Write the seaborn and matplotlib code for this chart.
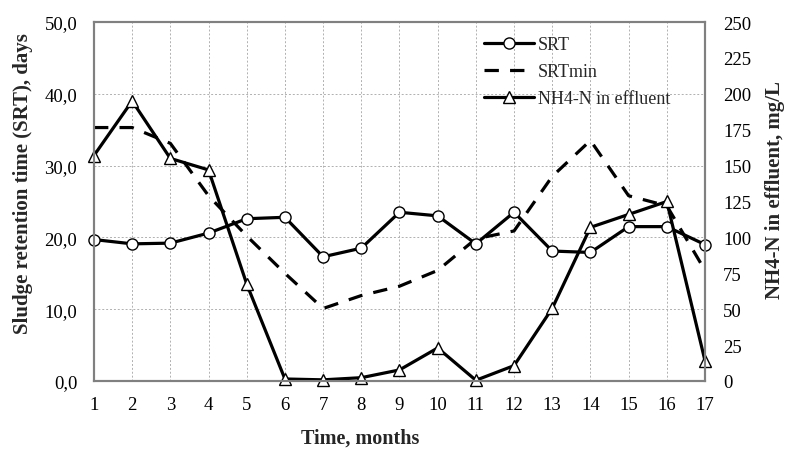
import matplotlib
matplotlib.use("Agg")
import matplotlib.pyplot as plt
import seaborn as sns
import pandas as pd
from matplotlib.ticker import FuncFormatter, MultipleLocator

months = list(range(1, 18))
srt = [19.7, 19.1, 19.2, 20.6, 22.6, 22.8, 17.3, 18.5, 23.5, 23.0, 19.1, 23.5, 18.1, 17.9, 21.5, 21.5, 19.0]
srt_min = [35.3, 35.3, 33.1, 25.8, 20.2, 15.0, 10.1, 11.9, 13.2, 15.4, 19.8, 20.9, 28.5, 33.5, 25.8, 24.4, 15.4]
nh4 = [157, 195, 155, 147, 67.5, 1.4, 0.8, 2.3, 7.7, 23, 0.5, 10.7, 50.6, 107, 116, 125, 14]

df = pd.DataFrame({"month": months, "SRT": srt, "SRTmin": srt_min, "NH4": nh4})

sns.set_style("white")
plt.rcParams['font.family'] = ['Liberation Serif', 'DejaVu Serif']

fig = plt.figure(figsize=(7.85, 4.52), dpi=100)
ax = fig.add_axes([0.1197, 0.1549, 0.7784, 0.7942])
ax2 = ax.twinx()

sns.lineplot(data=df, x="month", y="SRT", ax=ax, color="black", linewidth=2.3,
             marker="o", markersize=8, markerfacecolor="white",
             markeredgecolor="black", markeredgewidth=1.0, label="SRT",
             legend=False, clip_on=False, zorder=3)
sns.lineplot(data=df, x="month", y="SRTmin", ax=ax, color="black", linewidth=2.3,
             linestyle=(0, (4.5, 3.5)), label="SRTmin", legend=False, zorder=2)
sns.lineplot(data=df, x="month", y="NH4", ax=ax2, color="black", linewidth=2.3,
             marker="^", markersize=9, markerfacecolor="white",
             markeredgecolor="black", markeredgewidth=1.0,
             label="NH4-N in effluent", legend=False, clip_on=False)

ax.set_xlim(1, 17)
ax.set_ylim(0, 50)
ax2.set_ylim(0, 250)
ax.set_xticks(months)
ax.yaxis.set_major_locator(MultipleLocator(10))
ax2.yaxis.set_major_locator(MultipleLocator(25))
ax.yaxis.set_major_formatter(FuncFormatter(lambda v, p: f"{v:.1f}".replace(".", ",")))

ax.grid(True, color="#b0b0b0", linestyle=(0, (2, 2)), linewidth=0.7)
ax2.grid(False)
for a in (ax, ax2):
    for s in a.spines.values():
        s.set_color("#808080")
        s.set_linewidth(1.5)
    a.tick_params(length=0, labelsize=13.5, colors="black")
ax.tick_params(axis="y", pad=12)
ax.tick_params(axis="x", pad=11)
ax2.tick_params(axis="y", pad=13)

ax.set_xlabel("Time, months", fontsize=14.5, fontweight="bold")
ax.set_ylabel("Sludge retention time (SRT), days", fontsize=15, fontweight="bold")
ax2.set_ylabel("NH4-N in effluent, mg/L", fontsize=15, fontweight="bold")
ax.xaxis.set_label_coords(0.435, -0.13)
ax.yaxis.set_label_coords(-0.10, 0.554)
ax2.yaxis.set_label_coords(1.098, 0.535)

h1, l1 = ax.get_legend_handles_labels()
h2, l2 = ax2.get_legend_handles_labels()
ax2.legend(h1 + h2, l1 + l2, loc="upper left", bbox_to_anchor=(0.62, 0.99),
           frameon=False, fontsize=13, handlelength=2.8, handletextpad=0.2,
           labelspacing=0.55, borderaxespad=0.2)

fig.savefig("out.png", dpi=100)
